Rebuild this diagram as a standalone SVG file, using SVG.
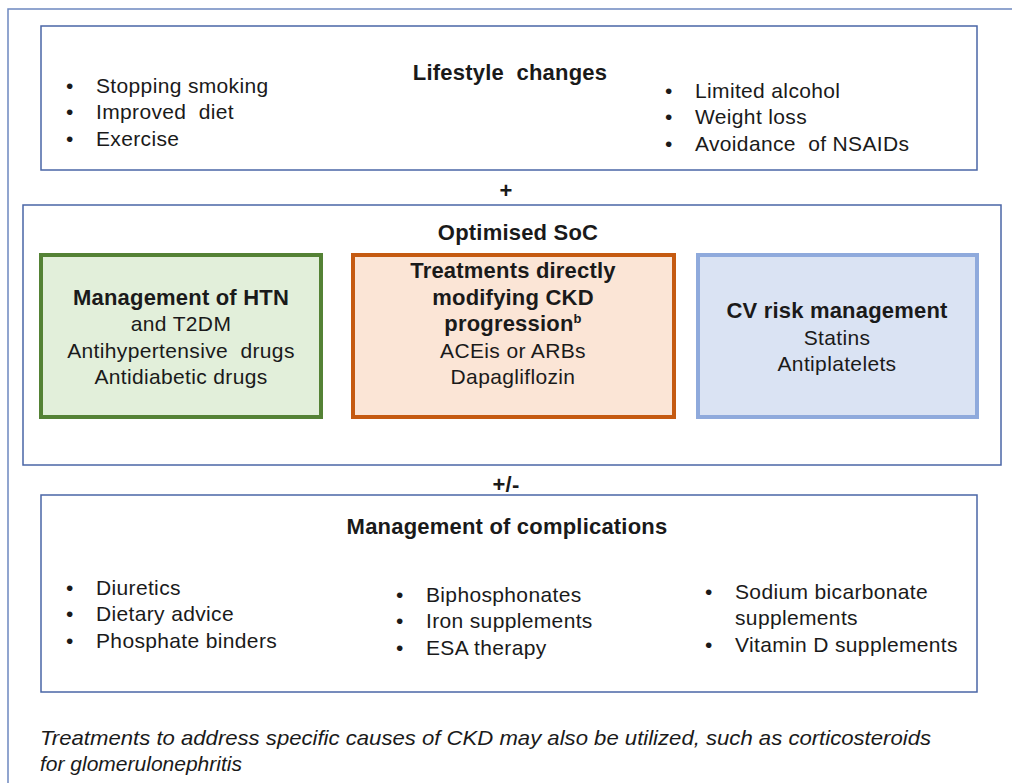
<svg xmlns="http://www.w3.org/2000/svg" width="1012" height="783" viewBox="0 0 1012 783">
<style>
text{font-family:"Liberation Sans",Arial,sans-serif;font-size:21px;fill:#1a1a1a;letter-spacing:0.35px}
.b{font-weight:bold;font-size:22px;letter-spacing:0.2px}
.c{text-anchor:middle}
.frame{fill:none;stroke:#6d88c0;stroke-width:1.5}
.box{fill:#fff;stroke:#4a66a6;stroke-width:1.5}
.it{font-style:italic;font-size:21px;letter-spacing:0}
</style>
<rect width="1012" height="783" fill="#fff"/>
<rect class="frame" x="8" y="9" width="1100" height="900"/>
<g id="lifestyle">
<rect class="box" x="41" y="26" width="936" height="144"/>
<text class="b c" x="510" y="80" xml:space="preserve">Lifestyle  changes</text>
<text x="66" y="93">•</text><text x="96" y="93">Stopping smoking</text>
<text x="66" y="119">•</text><text x="96" y="119" xml:space="preserve">Improved  diet</text>
<text x="66" y="146">•</text><text x="96" y="146">Exercise</text>
<text x="665" y="98">•</text><text x="695" y="98">Limited alcohol</text>
<text x="665" y="124">•</text><text x="695" y="124">Weight loss</text>
<text x="665" y="151">•</text><text x="695" y="151" xml:space="preserve">Avoidance  of NSAIDs</text>
</g>
<g id="connectors">
<text class="b c" x="506" y="198">+</text>
<text class="b c" x="506" y="492">+/-</text>
</g>
<g id="soc">
<rect class="box" x="23" y="205" width="978" height="260"/>
<text class="b c" x="518" y="240" letter-spacing="0.6">Optimised SoC</text>
</g>
<g id="htn">
<rect x="41" y="255" width="280" height="162" fill="#e2efda" stroke="#548235" stroke-width="4"/>
<text class="c" x="181"><tspan class="b" x="181" y="305">Management of HTN</tspan><tspan x="181" y="331">and T2DM</tspan><tspan x="181" y="358" xml:space="preserve">Antihypertensive  drugs</tspan><tspan x="181" y="384">Antidiabetic drugs</tspan></text>
</g>
<g id="ckd">
<rect x="353" y="255" width="321" height="162" fill="#fbe5d6" stroke="#c55a11" stroke-width="4"/>
<text class="c" x="513"><tspan class="b" x="513" y="278">Treatments directly</tspan><tspan class="b" x="513" y="305">modifying CKD</tspan><tspan class="b" x="513" y="331">progression<tspan font-size="13" dy="-8">b</tspan></tspan><tspan x="513" y="358">ACEis or ARBs</tspan><tspan x="513" y="384">Dapagliflozin</tspan></text>
</g>
<g id="cv">
<rect x="698" y="255" width="279" height="162" fill="#dae3f3" stroke="#8faadc" stroke-width="4"/>
<text class="c" x="837"><tspan class="b" x="837" y="318">CV risk management</tspan><tspan x="837" y="345">Statins</tspan><tspan x="837" y="371">Antiplatelets</tspan></text>
</g>
<g id="complications">
<rect class="box" x="41" y="495" width="936" height="197"/>
<text class="b c" x="507" y="534">Management of complications</text>
<text x="66" y="595">•</text><text x="96" y="595">Diuretics</text>
<text x="66" y="621">•</text><text x="96" y="621">Dietary advice</text>
<text x="66" y="648">•</text><text x="96" y="648">Phosphate binders</text>
<text x="396" y="602">•</text><text x="426" y="602">Biphosphonates</text>
<text x="396" y="628">•</text><text x="426" y="628">Iron supplements</text>
<text x="396" y="655">•</text><text x="426" y="655">ESA therapy</text>
<text x="705" y="599">•</text><text x="735" y="599">Sodium bicarbonate</text>
<text x="735" y="625">supplements</text>
<text x="705" y="652">•</text><text x="735" y="652">Vitamin D supplements</text>
</g>
<g id="footer">
<text class="it" x="40" y="745" textLength="891" lengthAdjust="spacingAndGlyphs">Treatments to address specific causes of CKD may also be utilized, such as corticosteroids</text>
<text class="it" x="40" y="771">for glomerulonephritis</text>
</g>
</svg>
